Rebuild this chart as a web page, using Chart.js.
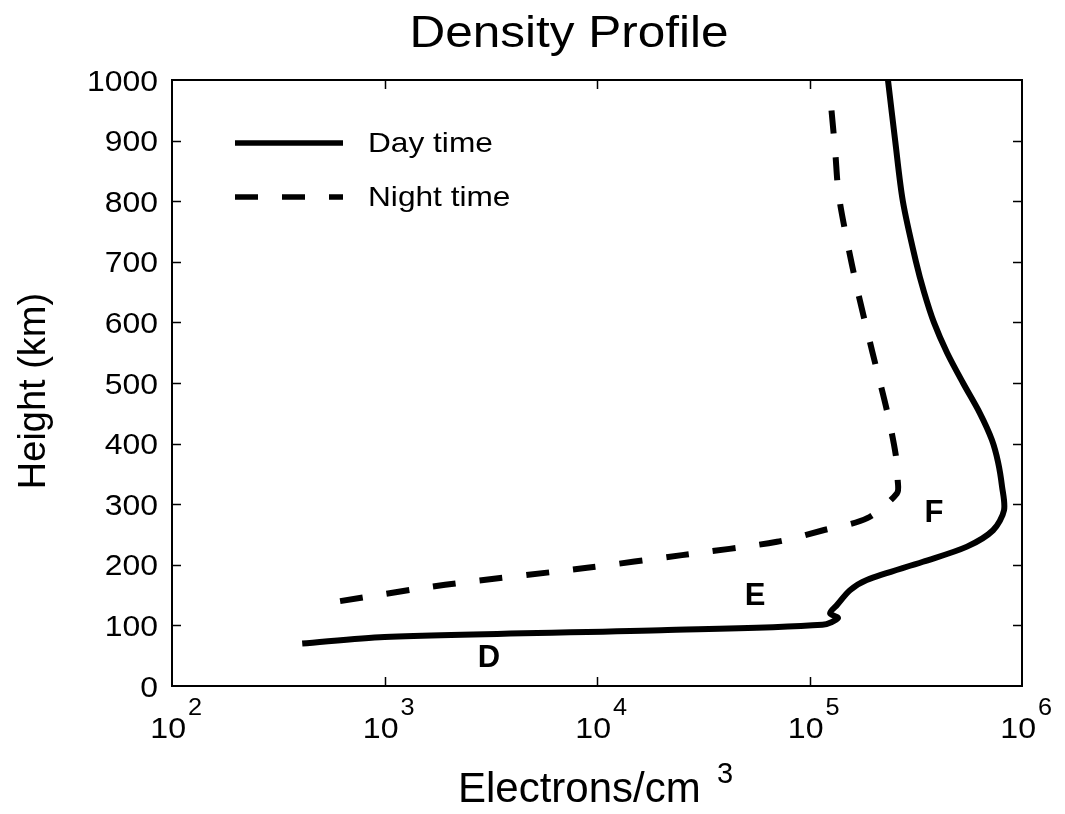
<!DOCTYPE html>
<html>
<head>
<meta charset="utf-8">
<title>Density Profile</title>
<script src="https://cdn.jsdelivr.net/npm/chart.js@4.4.1/dist/chart.umd.min.js"></script>
<style>
    body { margin: 0; background: #fff; }
    #wrap { width: 1065px; height: 814px; }
</style>
</head>
<body>
<div id="wrap"><canvas id="DensityChart"></canvas></div>
<script>
// Day time profile (electrons/cm^3 vs height km)
const dayDensity = [410, 1000, 20000, 115000, 136000, 125000, 135000, 155000, 186000, 342000, 551000, 731000, 823000, 805000, 771000, 722000, 634000, 528000, 444000, 385000, 346000, 317000, 275000, 253000, 234000];
const dayHeight  = [70, 81, 92, 101, 112, 120, 134, 158, 175, 205, 230, 257, 290, 330, 370, 406, 450, 500, 550, 600, 650, 700, 800, 900, 1000];

// Night time profile
const nightDensity = [618, 1930, 8980, 25100, 70300, 116000, 187000, 258000, 260000, 255000, 233000, 198000, 169000, 149000, 137000, 132000, 125000];
const nightHeight  = [140, 167, 195, 216, 238, 257, 277, 318, 340, 380, 450, 550, 650, 741, 813, 884, 975];

const seriesNames = ["Day time", "Night time"];

// tick labels
const yTicks = [0, 100, 200, 300, 400, 500, 600, 700, 800, 900, 1000];
const xTickExp = [2, 3, 4, 5, 6];

// layer labels
const layerNames = ["D", "E", "F"];
const layerDensity = [3100, 55500, 385000];
const layerHeight = [50, 151, 288];

const FONT = '"Liberation Sans", Arial, Helvetica, sans-serif';

function toPoints(xs, ys){
    var pts = [];
    for(let i = 0; i < xs.length; i++){
        pts.push({x: xs[i], y: ys[i]});
    }
    return pts;
}

function drawText(ctx, s, x, y, size, opt){
    opt = opt || {};
    ctx.save();
    ctx.font = (opt.bold ? "bold " : "") + size + "px " + FONT;
    ctx.fillStyle = "#000";
    ctx.translate(x, y);
    if (opt.rot) ctx.rotate(opt.rot);
    ctx.scale(opt.sx || 1, 1);
    ctx.textAlign = opt.align || "left";
    ctx.textBaseline = "alphabetic";
    ctx.fillText(s, 0, 0);
    ctx.restore();
}

// draws frame, inward ticks, labels, titles and legend
const decorPlugin = {
    id: "decor",
    beforeDraw(chart){
        const ctx = chart.ctx;
        ctx.save();
        ctx.fillStyle = "#fff";
        ctx.fillRect(0, 0, chart.width, chart.height);
        ctx.restore();
    },
    afterDraw(chart){
        const ctx = chart.ctx;
        const a = chart.chartArea;
        const xs = chart.scales.x, ys = chart.scales.y;
        const tl = 9;

        ctx.save();
        ctx.strokeStyle = "#000";
        ctx.lineWidth = 2;
        ctx.strokeRect(a.left, a.top, a.right - a.left, a.bottom - a.top);

        ctx.lineWidth = 1.5;
        ctx.beginPath();
        for(let i = 1; i < xTickExp.length - 1; i++){
            let px = Math.round(xs.getPixelForValue(Math.pow(10, xTickExp[i]))) + 0.5;
            ctx.moveTo(px, a.bottom); ctx.lineTo(px, a.bottom - tl);
            ctx.moveTo(px, a.top); ctx.lineTo(px, a.top + tl);
        }
        for(let i = 1; i < yTicks.length - 1; i++){
            let py = Math.round(ys.getPixelForValue(yTicks[i])) + 0.5;
            ctx.moveTo(a.left, py); ctx.lineTo(a.left + tl, py);
            ctx.moveTo(a.right, py); ctx.lineTo(a.right - tl, py);
        }
        ctx.stroke();
        ctx.restore();

        // y tick labels
        for(let i = 0; i < yTicks.length; i++){
            let py = ys.getPixelForValue(yTicks[i]);
            drawText(ctx, String(yTicks[i]), a.left - 14, py + 10.5, 29, {align: "right", sx: 1.1});
        }
        // x tick labels 10^n
        for(let i = 0; i < xTickExp.length; i++){
            let px = xs.getPixelForValue(Math.pow(10, xTickExp[i]));
            drawText(ctx, "10", px + 14, 738, 30, {align: "right", sx: 1.07});
            drawText(ctx, String(xTickExp[i]), px + 16, 715, 23, {sx: 1.1});
        }

        // titles
        drawText(ctx, "Density Profile", 569, 47, 45, {align: "center", sx: 1.1});
        drawText(ctx, "Electrons/cm", 458, 802, 42);
        drawText(ctx, "3", 717, 783, 29);
        drawText(ctx, "Height (km)", 45, 391, 38, {align: "center", rot: -Math.PI / 2});

        // layer labels
        for(let i = 0; i < layerNames.length; i++){
            let px = xs.getPixelForValue(layerDensity[i]);
            let py = ys.getPixelForValue(layerHeight[i]);
            drawText(ctx, layerNames[i], px, py + 11, 31, {align: "center", bold: true});
        }

        // legend
        const dsets = chart.data.datasets;
        const legY = [143, 197];
        for(let i = 0; i < dsets.length; i++){
            ctx.save();
            ctx.strokeStyle = "#000";
            ctx.lineWidth = 5.5;
            ctx.lineCap = "butt";
            ctx.setLineDash(dsets[i].borderDash || []);
            ctx.beginPath();
            ctx.moveTo(235, legY[i]);
            ctx.lineTo(343, legY[i]);
            ctx.stroke();
            ctx.restore();
            drawText(ctx, dsets[i].label, 368, legY[i] + 9, 28, {sx: 1.13});
        }
    }
};

var canvasElement = document.getElementById("DensityChart");
var config = {
    type: "line",
    data: {
        datasets: [{
            label: seriesNames[0],
            data: toPoints(dayDensity, dayHeight),
            borderColor: "#000",
            borderWidth: 6,
            borderJoinStyle: "round",
            pointRadius: 0,
            tension: 0.3,
            fill: false
        }, {
            label: seriesNames[1],
            data: toPoints(nightDensity, nightHeight),
            borderColor: "#000",
            borderWidth: 6,
            borderDash: [23, 24],
            borderCapStyle: "butt",
            pointRadius: 0,
            tension: 0.3,
            fill: false
        }]
    },
    options: {
        responsive: true,
        maintainAspectRatio: false,
        animation: false,
        layout: {
            padding: {left: 172, right: 43, top: 80, bottom: 128}
        },
        plugins: {
            legend: {display: false},
            title: {display: false},
            tooltip: {enabled: false}
        },
        scales: {
            x: {
                type: "logarithmic",
                min: 100,
                max: 1000000,
                display: false
            },
            y: {
                type: "linear",
                min: 0,
                max: 1000,
                display: false
            }
        }
    },
    plugins: [decorPlugin]
};
var densityChart = new Chart(canvasElement, config);
</script>
</body>
</html>
